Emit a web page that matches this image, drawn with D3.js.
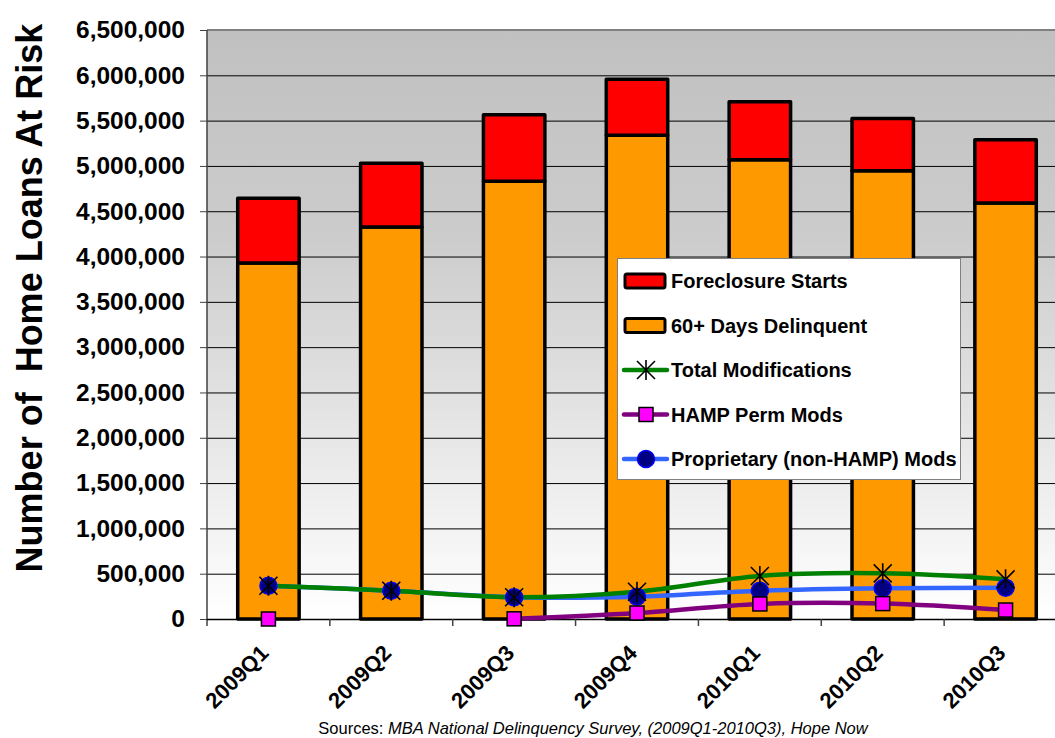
<!DOCTYPE html>
<html>
<head>
<meta charset="utf-8">
<script src="https://cdn.jsdelivr.net/npm/d3@7"></script>
<style>
  html, body { margin: 0; padding: 0; background: #fff; }
  svg { display: block; font-family: "Liberation Sans", Arial, sans-serif; }
</style>
</head>
<body>
<svg id="chart" width="1055" height="738"></svg>
<script>
// Quarters shown on the x axis
const quarters = ["2009Q1", "2009Q2", "2009Q3", "2009Q4", "2010Q1", "2010Q2", "2010Q3"];

// Stacked bars: loans at risk
const delinquent60 = [3930000, 4326000, 4830000, 5338000, 5068000, 4947000, 4591000];
const foreclosureStarts = [714000, 704000, 734000, 619000, 639000, 576000, 697000];

// Modification series (null = no data for that quarter)
const totalMods = [367000, 312000, 240000, 301000, 475000, 504000, 438000];
const hampPermMods = [0, null, 2000, 66000, 166000, 170000, 99000];
const proprietaryMods = [367000, 312000, 240000, 246000, 312000, 339000, 346000];

// Y axis ticks
const yTicks = d3.range(0, 6500001, 500000);

const svg = d3.select("#chart");
const plot = { left: 207, right: 1067, top: 30, bottom: 619 };

const x = d3.scaleBand().domain(quarters)
  .range([plot.left, plot.right]).paddingInner(0.5).paddingOuter(0.25);
const y = d3.scaleLinear().domain([0, 6500000]).range([plot.bottom, plot.top]);
const cx = q => x(q) + x.bandwidth() / 2;

// Plot background: grey fading to white
const defs = svg.append("defs");
const grad = defs.append("linearGradient").attr("id", "bg")
  .attr("x1", 0).attr("y1", 0).attr("x2", 0).attr("y2", 1);
grad.append("stop").attr("offset", "0%").attr("stop-color", "#c0c0c0");
grad.append("stop").attr("offset", "35%").attr("stop-color", "#cccccc");
grad.append("stop").attr("offset", "100%").attr("stop-color", "#ffffff");

svg.append("rect")
  .attr("x", plot.left).attr("y", plot.top)
  .attr("width", plot.right - plot.left).attr("height", plot.bottom - plot.top)
  .attr("fill", "url(#bg)");

// Horizontal gridlines
svg.append("g").selectAll("line").data(yTicks.filter(v => v > 0 && v < 6500000)).join("line")
  .attr("x1", plot.left).attr("x2", plot.right)
  .attr("y1", d => y(d) + 0.5).attr("y2", d => y(d) + 0.5)
  .attr("stroke", "#000").attr("stroke-width", 1);

// Top border
svg.append("line")
  .attr("x1", plot.left).attr("x2", plot.right)
  .attr("y1", plot.top).attr("y2", plot.top)
  .attr("stroke", "#808080").attr("stroke-width", 2);

// Y axis
const yAxis = svg.append("g")
  .attr("transform", `translate(${plot.left},0)`)
  .call(d3.axisLeft(y).tickValues(yTicks).tickSize(7).tickPadding(15)
    .tickFormat(d3.format(",")));
yAxis.select(".domain").attr("stroke", "#404040").attr("stroke-width", 1.5)
  .attr("d", `M0,${plot.top}V${plot.bottom + 7}`);
yAxis.selectAll(".tick line").attr("stroke", "#404040");
yAxis.selectAll(".tick text")
  .attr("font-size", 24.5).attr("font-weight", "bold").attr("fill", "#000")
  .attr("font-family", "Liberation Sans, Arial, sans-serif");

// X axis baseline and category ticks at band boundaries
const step = x.step();
const boundaries = d3.range(1, quarters.length).map(i => x(quarters[i]) - x.paddingInner() * step / 2);
svg.append("line")
  .attr("x1", plot.left).attr("x2", plot.right)
  .attr("y1", plot.bottom + 0.5).attr("y2", plot.bottom + 0.5)
  .attr("stroke", "#000").attr("stroke-width", 1.5);
svg.append("g").selectAll("line").data(boundaries).join("line")
  .attr("x1", d => d).attr("x2", d => d)
  .attr("y1", plot.bottom).attr("y2", plot.bottom + 7)
  .attr("stroke", "#404040").attr("stroke-width", 1.5);

// Stacked bars
const bars = svg.append("g");
quarters.forEach((q, i) => {
  bars.append("rect")
    .attr("x", x(q)).attr("width", x.bandwidth())
    .attr("y", y(delinquent60[i])).attr("height", y(0) - y(delinquent60[i]))
    .attr("fill", "#ff9900").attr("stroke", "#000").attr("stroke-width", 3.5)
    .attr("stroke-linejoin", "round");
  const top = delinquent60[i] + foreclosureStarts[i];
  bars.append("rect")
    .attr("x", x(q)).attr("width", x.bandwidth())
    .attr("y", y(top)).attr("height", y(delinquent60[i]) - y(top))
    .attr("fill", "#ff0000").attr("stroke", "#000").attr("stroke-width", 3.5)
    .attr("stroke-linejoin", "round");
});

// X tick labels, rotated
svg.append("g").selectAll("text").data(quarters).join("text")
  .attr("transform", d => `translate(${cx(d) - 4},${plot.bottom + 30}) rotate(-45)`)
  .attr("text-anchor", "end").attr("dy", "0.35em")
  .attr("font-size", 22).attr("font-weight", "bold")
  .text(d => d);

// Lines
const lineGen = d3.line()
  .defined(d => d.v != null)
  .x(d => cx(d.q)).y(d => y(d.v))
  .curve(d3.curveCatmullRom.alpha(0.5));
const pts = arr => quarters.map((q, i) => ({ q, v: arr[i] }));

const lines = svg.append("g").attr("fill", "none").attr("stroke-linecap", "round");
lines.append("path").datum(pts(hampPermMods)).attr("d", lineGen)
  .attr("stroke", "#800080").attr("stroke-width", 4.5);
lines.append("path").datum(pts(proprietaryMods)).attr("d", lineGen)
  .attr("stroke", "#3366ff").attr("stroke-width", 4.5);
lines.append("path").datum(pts(totalMods)).attr("d", lineGen)
  .attr("stroke", "#008000").attr("stroke-width", 4.5);

// Marker helpers
function circleMarker(g, px, py) {
  g.append("circle").attr("cx", px).attr("cy", py).attr("r", 8.5)
    .attr("fill", "#000080").attr("stroke", "#0000ff").attr("stroke-width", 1.5);
}
function squareMarker(g, px, py) {
  g.append("rect").attr("x", px - 7).attr("y", py - 7).attr("width", 14).attr("height", 14)
    .attr("fill", "#ff00ff").attr("stroke", "#000").attr("stroke-width", 1.5);
}
function starMarker(g, px, py) {
  const s = 9;
  g.append("path")
    .attr("d", `M${px - s},${py - s}L${px + s},${py + s}M${px - s},${py + s}L${px + s},${py - s}M${px},${py - s - 1}L${px},${py + s + 1}`)
    .attr("stroke", "#000").attr("stroke-width", 1.6).attr("fill", "none");
}

const markers = svg.append("g");
pts(proprietaryMods).forEach(d => { if (d.v != null) circleMarker(markers, cx(d.q), y(d.v)); });
pts(hampPermMods).forEach(d => { if (d.v != null) squareMarker(markers, cx(d.q), y(d.v)); });
pts(totalMods).forEach(d => { if (d.v != null) starMarker(markers, cx(d.q), y(d.v)); });

// Legend
const legend = svg.append("g");
legend.append("rect")
  .attr("x", 617.5).attr("y", 258.5).attr("width", 343).attr("height", 221)
  .attr("fill", "#fff").attr("stroke", "#808080").attr("stroke-width", 1);

const legendItems = [
  { label: "Foreclosure Starts", type: "bar", color: "#ff0000" },
  { label: "60+ Days Delinquent", type: "bar", color: "#ff9900" },
  { label: "Total Modifications", type: "line", color: "#008000", marker: starMarker },
  { label: "HAMP Perm Mods", type: "line", color: "#800080", marker: squareMarker },
  { label: "Proprietary (non-HAMP) Mods", type: "line", color: "#3366ff", marker: circleMarker }
];
legendItems.forEach((it, i) => {
  const ly = 281 + i * 44.5;
  if (it.type === "bar") {
    legend.append("rect").attr("x", 625).attr("y", ly - 7).attr("width", 40).attr("height", 14)
      .attr("rx", 2).attr("fill", it.color).attr("stroke", "#000").attr("stroke-width", 3);
  } else {
    legend.append("line").attr("x1", 624).attr("x2", 667).attr("y1", ly).attr("y2", ly)
      .attr("stroke", it.color).attr("stroke-width", 4.5).attr("stroke-linecap", "round");
    it.marker(legend, 646, ly);
  }
  legend.append("text").attr("x", 671).attr("y", ly).attr("dy", "0.36em")
    .attr("font-size", 20).attr("font-weight", "bold").text(it.label);
});

// Y axis title
svg.append("text")
  .attr("transform", "translate(42,298) rotate(-90)")
  .attr("text-anchor", "middle")
  .attr("font-size", 36).attr("font-weight", "bold")
  .attr("xml:space", "preserve")
  .style("white-space", "pre")
  .text("Number of  Home Loans At Risk");

// Source note
const src = svg.append("text").attr("x", 593).attr("y", 734)
  .attr("text-anchor", "middle").attr("font-size", 16.5);
src.append("tspan").text("Sources: ");
src.append("tspan").attr("font-style", "italic")
  .text("MBA National Delinquency Survey, (2009Q1-2010Q3), Hope Now");
</script>
</body>
</html>
